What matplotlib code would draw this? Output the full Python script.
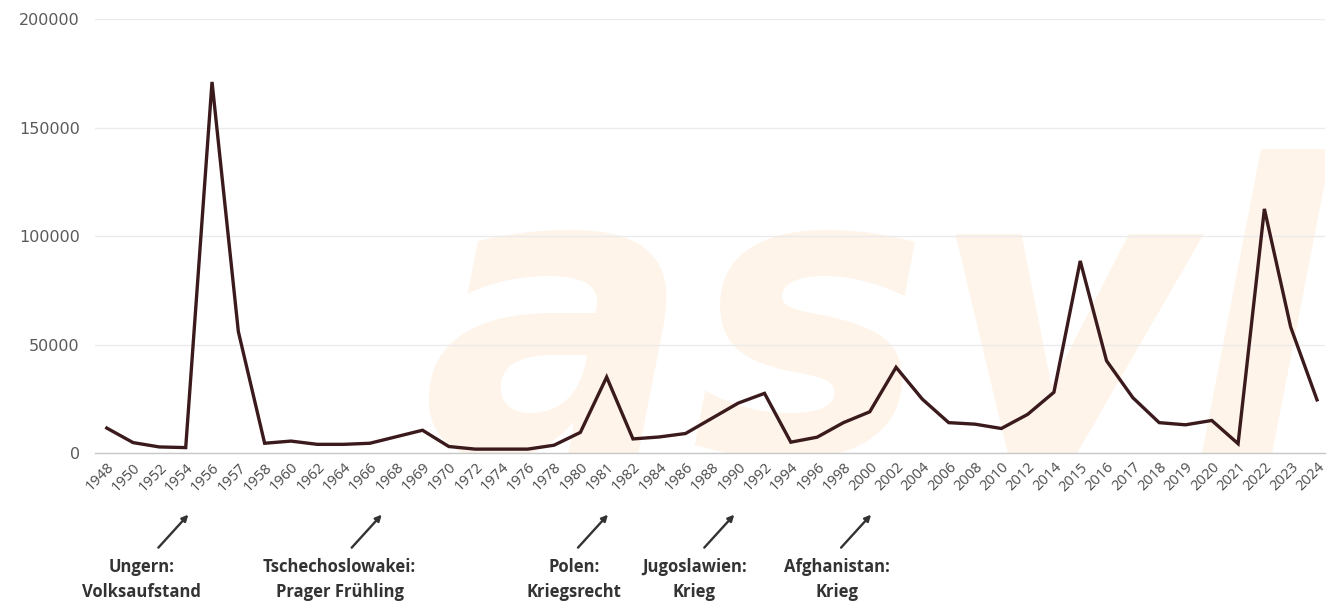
import matplotlib
matplotlib.use("Agg")
import matplotlib.pyplot as plt
import matplotlib.transforms as mtransforms

# asylum applications per year
years = ["1948", "1950", "1952", "1954", "1956", "1957", "1958", "1960", "1962", "1964",
         "1966", "1968", "1969", "1970", "1972", "1974", "1976", "1978", "1980", "1981",
         "1982", "1984", "1986", "1988", "1990", "1992", "1994", "1996", "1998", "2000",
         "2002", "2004", "2006", "2008", "2010", "2012", "2014", "2015", "2016", "2017",
         "2018", "2019", "2020", "2021", "2022", "2023", "2024"]
applications = [11500, 4800, 2800, 2500, 171000, 56000, 4500, 5500, 4000, 4000,
                4500, 7500, 10500, 3000, 1800, 1800, 1800, 3600, 9500, 35000,
                6500, 7400, 9000, 16000, 23000, 27500, 5000, 7300, 14000, 19000,
                39500, 24800, 14000, 13300, 11300, 17800, 28000, 88500, 42500, 25500,
                14000, 13000, 15000, 4300, 112500, 58000, 24500]
y_ticks = [0, 50000, 100000, 150000, 200000]

# historical events: label, arrow tip and text centre on the category axis
events = [("Ungern:\nVolksaufstand", 3.1, 1.33),
          ("Tschechoslowakei:\nPrager Frühling", 10.45, 8.85),
          ("Polen:\nKriegsrecht", 19.05, 17.77),
          ("Jugoslawien:\nKrieg", 23.85, 22.33),
          ("Afghanistan:\nKrieg", 29.05, 27.76)]

plt.rcParams['font.family'] = ['Open Sans', 'DejaVu Sans']

fig = plt.figure(figsize=(13.41, 6.05), dpi=100)
ax = fig.add_axes([0.0708, 0.2512, 0.9172, 0.7174])

x = list(range(len(years)))

# faint "asyl" watermark behind the line, clipped to the plot area
ax.text(0.265, 0.0, "asyl", transform=ax.transAxes, fontsize=288,
        fontweight='bold', fontstyle='italic', family='DejaVu Sans',
        color='#fef4e9', ha='left', va='baseline', zorder=0, clip_on=True)

ax.plot(x, applications, color='#3a1a1c', linewidth=2.4, zorder=3,
        solid_joinstyle='miter')

ax.set_xlim(-0.45, len(years) - 1 + 0.3)
ax.set_ylim(0, 200000)
ax.set_yticks(y_ticks)
ax.set_yticklabels([str(v) for v in y_ticks], family='DejaVu Sans')
ax.set_xticks(x)
ax.set_xticklabels(years, rotation=45, ha='right', va='top',
                   rotation_mode='anchor', fontsize=10.5, color='#4a4a4a')

ax.tick_params(axis='y', length=0, pad=11, labelsize=11.5, labelcolor='#5a5a5a')
ax.tick_params(axis='x', length=0, pad=5)

ax.grid(axis='y', color='#ebebeb', linewidth=1.0, zorder=1)
ax.set_axisbelow(True)
for side in ['top', 'right', 'left']:
    ax.spines[side].set_visible(False)
ax.spines['bottom'].set_color('#c8c8c8')
ax.spines['bottom'].set_linewidth(1.0)

# event labels with arrows pointing at the year labels
trans = mtransforms.blended_transform_factory(ax.transData, ax.transAxes)
for label, tip, centre in events:
    ax.annotate("", xy=(tip, -0.142), xycoords=trans,
                xytext=(tip - 1.14, -0.218), textcoords=trans,
                arrowprops=dict(arrowstyle='-|>', color='#333333', lw=1.7,
                                mutation_scale=9, shrinkA=0, shrinkB=0),
                annotation_clip=False)
    ax.text(centre, -0.243, label, transform=trans, ha='center', va='top',
            fontsize=12, fontweight='bold', color='#333333',
            linespacing=1.45, clip_on=False)

fig.savefig("out.png", dpi=100, facecolor='white')
